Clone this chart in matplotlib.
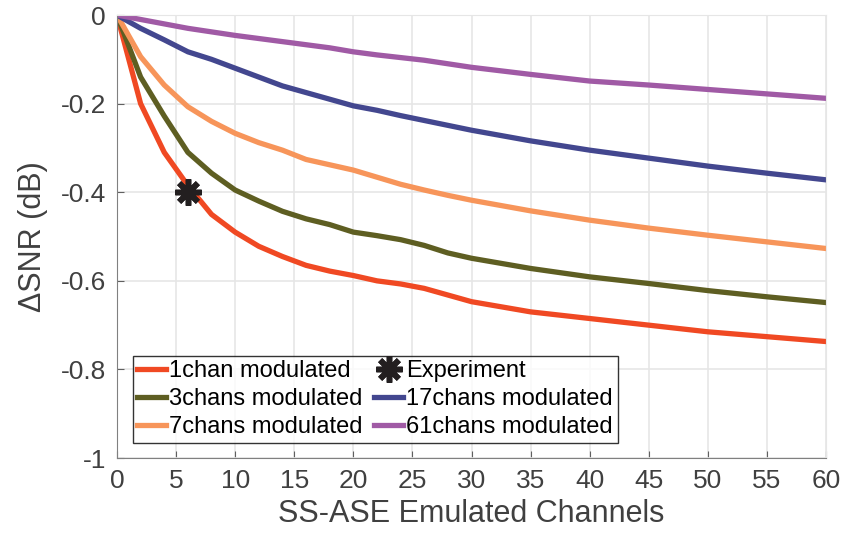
import matplotlib.pyplot as plt

plt.rcParams['font.family'] = ['Liberation Sans', 'DejaVu Sans']
plt.rcParams['axes.unicode_minus'] = False

# emulated channel counts
x = [0, 2, 4, 6, 8, 10, 12, 14, 16, 18, 20, 22, 24, 26, 28, 30, 35, 40, 45, 50, 55, 60]

snr_1ch = [0, -0.20, -0.31, -0.385, -0.45, -0.49, -0.522, -0.545, -0.565, -0.578, -0.588,
           -0.60, -0.607, -0.617, -0.632, -0.647, -0.67, -0.685, -0.70, -0.715, -0.726, -0.737]
snr_3ch = [0, -0.14, -0.228, -0.31, -0.357, -0.395, -0.42, -0.443, -0.46, -0.473, -0.49,
           -0.498, -0.507, -0.52, -0.537, -0.549, -0.572, -0.591, -0.606, -0.622, -0.636, -0.649]
snr_7ch = [0, -0.094, -0.158, -0.207, -0.24, -0.267, -0.288, -0.305, -0.326, -0.338, -0.35,
           -0.366, -0.382, -0.395, -0.407, -0.418, -0.442, -0.463, -0.481, -0.497, -0.512, -0.527]
snr_17ch = [0, -0.03, -0.056, -0.083, -0.1, -0.12, -0.14, -0.16, -0.175, -0.19, -0.205,
            -0.215, -0.227, -0.238, -0.249, -0.26, -0.284, -0.305, -0.323, -0.341, -0.357, -0.372]
snr_61ch = [0, -0.01, -0.02, -0.03, -0.038, -0.046, -0.053, -0.06, -0.067, -0.074, -0.083,
            -0.09, -0.096, -0.102, -0.11, -0.118, -0.134, -0.149, -0.158, -0.168, -0.178, -0.188]

exp_x = [6]
exp_y = [-0.40]

fig = plt.figure(figsize=(8.44, 5.37), dpi=100)
ax = fig.add_axes([0.1386, 0.147, 0.8401, 0.825])

lw = 3.8
l1, = ax.plot(x, snr_1ch, color='#F04923', lw=lw, label='1chan modulated')
l3, = ax.plot(x, snr_3ch, color='#5E5E22', lw=lw, label='3chans modulated')
l7, = ax.plot(x, snr_7ch, color='#F7955A', lw=lw, label='7chans modulated')
l17, = ax.plot(x, snr_17ch, color='#43478F', lw=lw, label='17chans modulated')
l61, = ax.plot(x, snr_61ch, color='#A05AA5', lw=lw, label='61chans modulated')
le, = ax.plot(exp_x, exp_y, linestyle='none', marker=(8, 2, 0), markersize=19,
              markeredgewidth=4, color='#231F20', label='Experiment', zorder=5)

ax.set_xlim(0, 60)
ax.set_ylim(-1, 0)
ax.set_xticks(range(0, 61, 5))
ax.set_yticks([0, -0.2, -0.4, -0.6, -0.8, -1])
ax.set_yticklabels(['0', '-0.2', '-0.4', '-0.6', '-0.8', '-1'])

ax.grid(True, color='#e6e6e6', lw=1.2)
ax.set_axisbelow(True)
for s in ['top', 'right']:
    ax.spines[s].set_color('#e6e6e6')
for s in ['left', 'bottom']:
    ax.spines[s].set_color('#808080')
ax.tick_params(direction='in', length=5, color='#606060', labelsize=19,
               labelcolor='#404040', top=False, right=False, pad=8)

ax.set_xlabel('SS-ASE Emulated Channels', fontsize=22, color='#404040', labelpad=4)
ax.set_ylabel('ΔSNR (dB)', fontsize=22, color='#404040', labelpad=9)

leg = ax.legend(handles=[l1, l3, l7, le, l17, l61], ncol=2, loc='lower left',
                bbox_to_anchor=(0.022, 0.034), fontsize=17, frameon=True, fancybox=False,
                handlelength=1.2, handletextpad=0.15, columnspacing=0.5,
                labelspacing=0.25, borderpad=0.2, borderaxespad=0)
leg.get_frame().set_edgecolor('black')
leg.get_frame().set_linewidth(1.0)

plt.savefig('out.png', dpi=100)
